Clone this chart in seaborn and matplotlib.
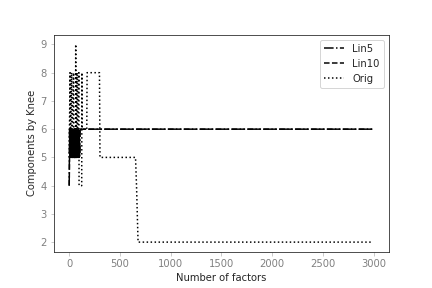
import matplotlib
matplotlib.use("Agg")
import matplotlib.pyplot as plt
import seaborn as sns
import pandas as pd

lin_factors = [2, 5, 8, 10, 12, 15, 18, 20, 22, 25, 28, 30, 32, 35, 38, 40, 42, 45, 48, 50,
               52, 55, 58, 60, 62, 65, 68, 70, 72, 75, 78, 80, 85, 90, 95, 100, 105, 110,
               120, 130, 140, 170, 175, 300, 305, 655, 665, 680, 3000]

lin5 = [4, 6, 5, 6, 5, 6, 5, 6, 5, 6, 5, 6, 5, 6, 5, 6, 5, 6, 5, 6,
        5, 6, 5, 6, 5, 6, 5, 6, 5, 6, 5, 6, 5, 6, 5, 6, 5, 6,
        6, 6, 6, 6, 6, 6, 6, 6, 6, 6, 6]

lin10 = [4, 5, 6, 5, 6, 5, 6, 5, 6, 5, 6, 5, 6, 5, 6, 5, 6, 5, 6, 5,
         6, 5, 6, 5, 6, 5, 6, 5, 6, 5, 6, 5, 6, 5, 6, 5, 6, 6,
         6, 6, 6, 6, 6, 6, 6, 6, 6, 6, 6]

orig_factors = [2, 10, 12, 26, 28, 45, 47, 64, 66, 68, 80, 82, 97, 99, 125, 127, 130,
                175, 178, 300, 305, 655, 665, 680, 2990]

orig = [5, 8, 5, 8, 5, 8, 5, 5, 9, 5, 8, 5, 8, 4, 4, 8, 6,
        6, 8, 8, 5, 5, 4, 2, 2]

series_names = ["Lin5", "Lin10", "Orig"]

frames = [
    pd.DataFrame({"factors": lin_factors, "knee": lin5, "method": "Lin5"}),
    pd.DataFrame({"factors": lin_factors, "knee": lin10, "method": "Lin10"}),
    pd.DataFrame({"factors": orig_factors, "knee": orig, "method": "Orig"}),
]
df = pd.concat(frames, ignore_index=True)

sns.set_style("white")
fig, ax = plt.subplots(figsize=(6, 4), dpi=72)
fig.subplots_adjust(left=0.125, right=0.9, top=0.88, bottom=0.125)

sns.lineplot(data=df, x="factors", y="knee", hue="method", style="method",
             hue_order=series_names, style_order=series_names,
             palette={"Lin5": "black", "Lin10": "black", "Orig": "black"},
             dashes={"Lin5": (6.4, 1.6, 1, 1.6), "Lin10": (3.7, 1.6), "Orig": (1, 1.65)},
             estimator=None, sort=False, linewidth=1.5, ax=ax)

ax.set_xlabel("Number of factors")
ax.set_ylabel("Components by Knee")
ax.set_xticks([0, 500, 1000, 1500, 2000, 2500, 3000])
ax.tick_params(axis="both", bottom=True, left=True, length=3.5,
               color="0.75", labelcolor="0.5", labelsize=10)

handles, labels = ax.get_legend_handles_labels()
pairs = [(h, l) for h, l in zip(handles, labels) if l in series_names]
ax.legend([p[0] for p in pairs], [p[1] for p in pairs], loc="upper right")

fig.savefig("out.png", dpi=72)
